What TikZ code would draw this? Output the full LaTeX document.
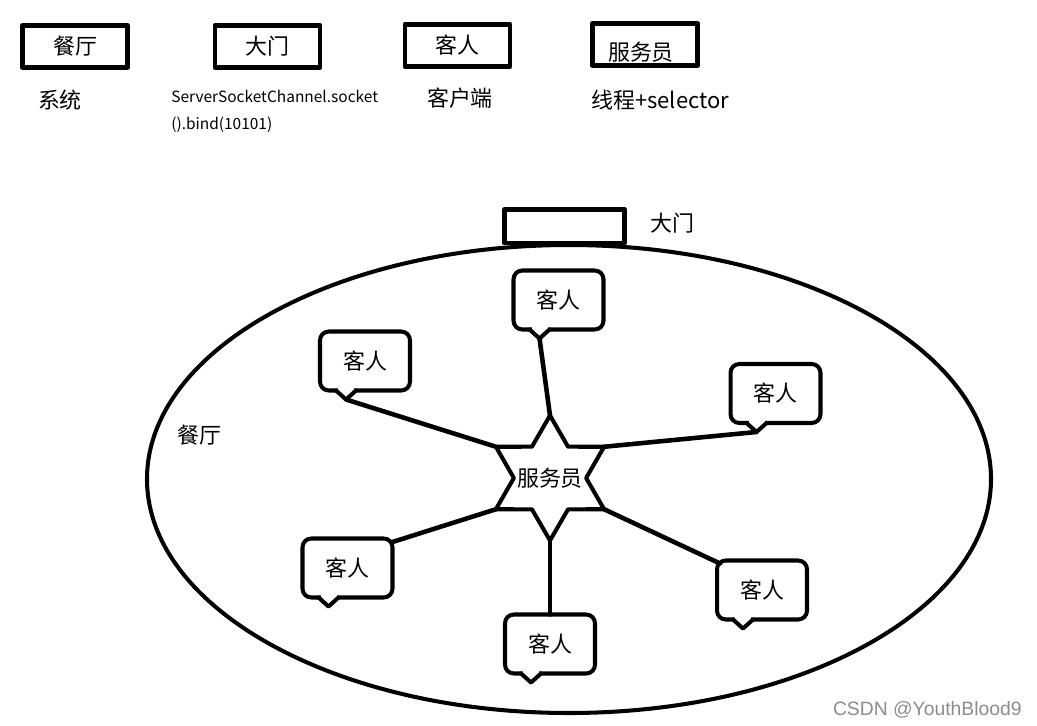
\documentclass[tikz,border=0pt]{standalone}
\usepackage{fontspec}
\setmainfont{Noto Sans CJK SC}
\newfontfamily\markfont{Liberation Sans}
\usepackage{tikz}
\usetikzlibrary{shapes.geometric,calc}

\tikzset{
  txt/.style={inner sep=0pt,font=\fontsize{12.5}{15}\selectfont},
  small/.style={inner sep=0pt,font=\fontsize{8.8}{10}\selectfont},
  topbox/.style={draw,line width=2.8pt,minimum width=2.1cm,minimum height=0.84cm,inner sep=0pt,outer sep=0pt},
  guest/.style={draw,line width=2.3pt,rounded corners=5pt,minimum width=1.8cm,minimum height=1.18cm,inner sep=0pt,outer sep=0pt,fill=white},
  waiter/.style={draw,star,star points=6,star point ratio=1.73,minimum size=2.5cm,inner sep=0pt,outer sep=0pt,line width=2.3pt,fill=white},
  link/.style={line width=2.6pt},
}

\begin{document}
\begin{tikzpicture}[x=0.02cm,y=-0.02cm,line cap=round,line join=round]
\useasboundingbox (0,0) rectangle (1037,726);
% legend on top
\node[topbox,txt] (bHall) at (75,46.5) {餐厅};
\node[topbox,txt] (bDoor) at (267.5,46.5) {大门};
\node[topbox,txt] (bGuest) at (457.5,45.5) {客人};
\node[topbox] (bWaiter) at (645,44.5) {};
\node[txt] (tWaiter) at (641,52) {服务员};
\node[txt] (tSys) at (60,100) {系统};
\node[small,anchor=west] (tApi1) at (171,96) {ServerSocketChannel.socket};
\node[small,anchor=west] (tApi2) at (171,125) {().bind(10101)};
\node[txt] (tClient) at (460,98) {客户端};
\node[txt,anchor=west] (tThread) at (591,100) {线程+selector};
% restaurant
\draw[line width=2.3pt] (569,479) ellipse [x radius=422,y radius=234];
\draw[line width=2.8pt,fill=white] (504.5,209.5) rectangle (624.5,243);
\node[txt] (tGate) at (672,223) {大门};
\node[txt] (tHall) at (199,435) {餐厅};
% guests
\foreach \n/\x/\y in {cUL/365/361, cT/558.5/300, cR/775.5/393.5, cLL/347.5/568, cB/550/644, cLR/762/590}{
  \node[guest,txt] (\n) at (\x,\y) {客人};
  \fill[white] ($(\n.south west)+(18,-3)$) rectangle ($(\n.south west)+(34,3)$);
  \draw[line width=2.3pt] ($(\n.south west)+(16,0)$) -- ($(\n.south west)+(26,9)$) coordinate (\n-tip) -- ($(\n.south west)+(36,0)$);
}
\node[waiter,label={[txt]center:服务员}] (svr) at (550,478) {};
\draw[link] (cUL-tip) -- (svr.outer point 2);
\draw[link] (cT-tip) -- (svr.outer point 1);
\draw[link] (cR-tip) -- (svr.outer point 6);
\draw[link] ($(cLL.east)+(0,-26)$) -- (svr.outer point 3);
\draw[link] (cB.north) -- (svr.outer point 4);
\draw[link] ($(cLR.north west)+(3,3)$) -- (svr.outer point 5);
\node[font=\markfont\fontsize{11}{13}\selectfont,text=black!45,inner sep=0pt,anchor=east] (mark) at (1022,710) {CSDN @YouthBlood9};
\end{tikzpicture}
\end{document}
